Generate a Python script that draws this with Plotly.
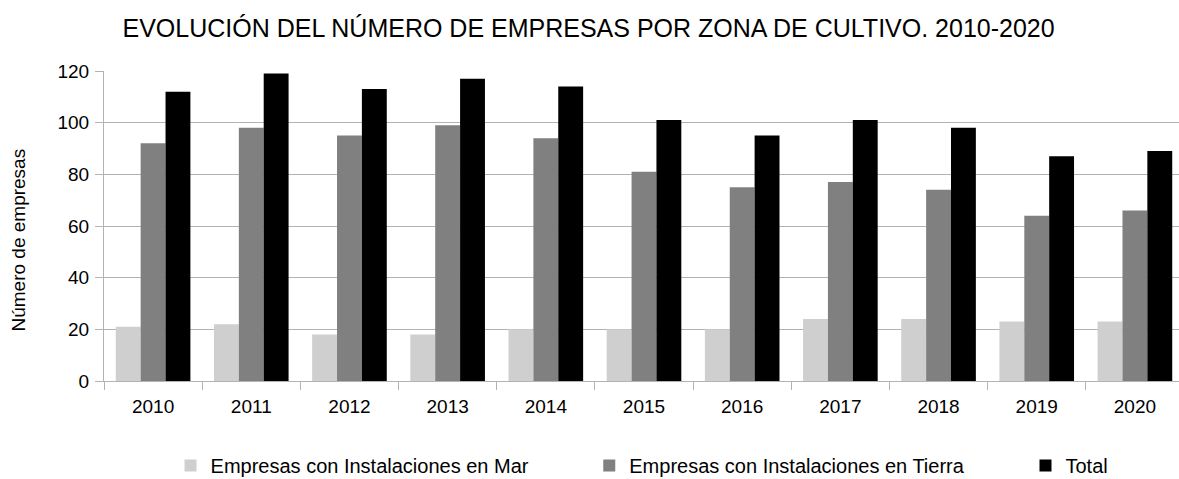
import plotly.graph_objects as go

years = ["2010", "2011", "2012", "2013", "2014", "2015", "2016", "2017", "2018", "2019", "2020"]
mar = [21, 22, 18, 18, 20, 20, 20, 24, 24, 23, 23]
tierra = [92, 98, 95, 99, 94, 81, 75, 77, 74, 64, 66]
total = [112, 119, 113, 117, 114, 101, 95, 101, 98, 87, 89]

names = ["Empresas con Instalaciones en Mar", "Empresas con Instalaciones en Tierra", "Total"]
colors = ["#cfcfcf", "#808080", "#000000"]
legends = ["legend", "legend2", "legend3"]

FONT = "Liberation Sans, Arial, sans-serif"
GRID = "#b3b3b3"

fig = go.Figure()
for name, vals, col, lg in zip(names, [mar, tierra, total], colors, legends):
    fig.add_trace(go.Bar(x=years, y=vals, name=name, marker=dict(color=col, line=dict(width=0)),
                         legend=lg, showlegend=True))

leg_common = dict(orientation="h", yanchor="middle", y=-(465.5 - 381) / 310, xanchor="left",
                  font=dict(family=FONT, size=20, color="#000000"),
                  bgcolor="rgba(0,0,0,0)", borderwidth=0)

fig.update_layout(
    width=1179, height=479,
    margin=dict(l=104, r=0, t=71, b=98, autoexpand=False),
    paper_bgcolor="white", plot_bgcolor="white",
    showlegend=True,
    font=dict(family=FONT, size=19, color="#000000"),
    title=dict(text="EVOLUCIÓN DEL NÚMERO DE EMPRESAS POR ZONA DE CULTIVO. 2010-2020",
               x=0.4992, xanchor="center", xref="container",
               y=1 - 28.5 / 479, yanchor="middle", yref="container",
               font=dict(family=FONT, size=25, color="#000000")),
    barmode="group", bargap=0.24, bargroupgap=0,
    legend=dict(x=0.0619, **leg_common),
    legend2=dict(x=0.4514, **leg_common),
    legend3=dict(x=0.8572, **leg_common),
    xaxis=dict(type="category", range=[-0.5, 10.5 - 5 / 98], showgrid=False,
               showline=True, linecolor=GRID, linewidth=1,
               ticks="outside", tickson="boundaries", ticklen=8, tickcolor=GRID,
               ticklabelstandoff=8,
               tickfont=dict(family=FONT, size=19, color="#000000")),
    yaxis=dict(range=[0, 120], dtick=20, showgrid=True, gridcolor=GRID, gridwidth=1,
               showline=True, linecolor=GRID, linewidth=1, zeroline=False,
               ticks="outside", ticklen=8, tickcolor=GRID, ticklabelstandoff=2,
               tickfont=dict(family=FONT, size=19, color="#000000")),
    annotations=[dict(text="Número de empresas", textangle=-90, xref="paper", yref="paper",
                      x=(17.5 - 104) / 1075, y=(381 - 240) / 310,
                      xanchor="center", yanchor="middle", showarrow=False,
                      font=dict(family=FONT, size=19, color="#000000"))],
)

fig.write_html("out.html", config={"displayModeBar": False},
               post_script="document.body.style.margin='0px';")
